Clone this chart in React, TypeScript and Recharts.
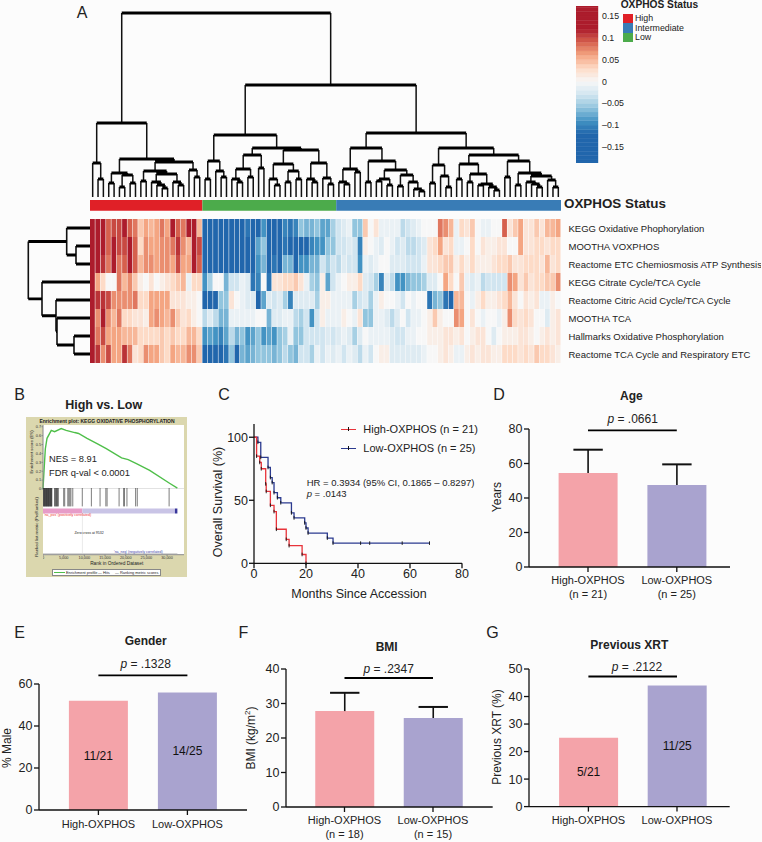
import {
  Bar,
  BarChart,
  Cell,
  ComposedChart,
  LabelList,
  Line,
  LineChart,
  ReferenceArea,
  ReferenceLine,
  XAxis,
  YAxis,
} from "recharts";

const FONT = '"Liberation Sans", Arial, sans-serif';
const INK = "#222";
const PINK = "#f4a3a9";
const LAVENDER = "#a9a3cf";

// heatmap values, unit 0.01, one list per pathway
const keggOxphos = [13,13,13,9,10,10,13,9,8,4,6,5,6,8,6,13,9,8,13,13,5,-13,-13,-13,-13,-13,-12,-12,-12,-11,-13,-13,-9,-13,-13,-13,-10,-11,-10,-6,-7,-7,-6,-8,-8,-5,-3,-2,-1,-6,-6,4,0,2,-1,-1,-1,-1,-4,-3,-2,-1,0,0,0,8,7,5,-1,3,2,4,0,-1,-1,0,0,9,2,4,6,2,2,4,2,5,5,6];
const moothaVoxphos = [13,13,13,9,13,10,10,12,9,3,7,6,6,7,7,8,11,7,5,13,10,-13,-13,-13,-13,-13,-13,-13,-13,-13,-13,-8,-6,-12,-13,-12,-11,-12,-12,-12,-12,-10,-9,-9,-6,-6,-3,-3,-2,-3,-10,1,0,-1,-2,0,-1,-3,-2,-4,-4,-3,-2,2,3,6,2,3,-1,-1,0,3,0,2,1,1,2,2,0,0,6,2,2,3,3,2,3,3];
const reactomeEtc = [13,13,11,8,13,8,9,12,9,5,7,7,6,7,7,6,10,6,6,13,9,-13,-13,-13,-13,-13,-13,-13,-13,-13,-13,-9,-7,-13,-11,-13,-7,-7,-13,-9,-9,-7,-7,-3,-5,-3,-4,-2,-3,-3,-9,-1,-2,-1,0,0,-2,-2,-2,-3,-3,-3,-1,2,2,3,4,4,1,3,1,3,1,1,1,2,3,3,4,2,2,3,3,3,2,5,2,3];
const keggCitrate = [13,6,3,0,0,8,5,7,4,1,0,2,0,1,2,3,4,5,-1,3,3,-9,-5,0,0,-7,-3,-3,-1,-2,-11,-10,0,-11,2,2,3,3,4,2,-1,-5,-6,1,-8,-3,-1,0,1,1,3,-2,-3,-5,-10,-2,-4,-9,-9,-7,-6,-6,-5,-2,-2,0,6,3,0,4,-1,-2,-1,-4,-3,-3,-3,-3,7,6,2,4,2,3,3,4,4,7];
const reactomeCitric = [13,11,11,10,7,7,7,7,8,3,3,6,6,6,6,2,2,2,1,1,0,-13,-13,-13,-6,-6,2,0,-1,-2,-2,-12,-8,-2,-3,-2,-5,-10,-2,-2,-2,-2,-5,1,1,-1,-1,-1,-1,-5,-3,-2,-5,-1,1,0,0,-1,-3,0,-1,0,0,-11,-7,-6,-11,-12,5,5,0,-1,1,3,1,1,2,3,5,2,0,2,1,2,-1,-1,1,0];
const moothaTca = [13,7,13,7,5,8,3,3,2,2,1,6,7,6,5,7,4,2,3,1,0,-4,-2,-4,-7,-7,-1,-1,-1,-1,-1,0,0,-7,-2,-2,-1,-1,-4,-5,-3,-9,-3,1,-1,-1,-1,1,0,-1,2,-6,-6,-1,-1,-2,-4,-2,0,-3,-1,-1,0,1,4,1,0,0,7,6,0,2,0,-1,0,0,-1,1,7,3,2,3,2,0,0,-2,1,2];
const hallmarksOxphos = [13,8,10,6,6,6,5,5,5,3,3,3,3,4,3,4,3,3,5,5,3,-9,-8,-9,-10,-8,-4,-7,-6,-9,-8,-6,-9,-8,-9,-6,-5,-1,-6,-6,-3,-3,-3,-3,-2,-3,-2,-1,-2,-5,-2,0,-1,-1,-1,-1,-2,-3,-3,-1,-1,0,0,1,1,1,2,2,1,2,0,1,2,2,0,-2,0,1,1,1,2,2,1,0,1,2,1,2];
const reactomeTca = [13,11,7,10,6,6,11,8,2,3,7,6,6,4,3,6,5,5,7,7,4,-12,-12,-12,-12,-11,-6,-12,-7,-8,-7,-6,-6,-6,-7,-6,-4,-6,-7,-3,-3,-5,-1,-3,-1,-2,-1,-3,-1,-2,-4,-1,-3,0,1,1,-2,-2,-2,-2,-2,-2,-1,0,0,1,2,1,-1,-1,1,2,1,2,2,1,1,3,3,3,2,3,2,4,3,3,2,1];
const heatRows = [keggOxphos, moothaVoxphos, reactomeEtc, keggCitrate, reactomeCitric, moothaTca, hallmarksOxphos, reactomeTca];
const pathways = [
  "KEGG Oxidative Phophorylation",
  "MOOTHA VOXPHOS",
  "Reactome ETC Chemiosmosis ATP Synthesis",
  "KEGG Citrate Cycle/TCA Cycle",
  "Reactome Citric Acid Cycle/TCA Cycle",
  "MOOTHA TCA",
  "Hallmarks Oxidative Phosphorylation",
  "Reactome TCA Cycle and Respiratory ETC",
];
const colorbarEdges = [-18.7,-18,-17,-16,-15,-14,-13,-12,-11,-10,-9,-8,-7,-6,-5,-4,-3,-2,-1,0,1,2,3,4,5,6,7,8,9,10,11,12,13,14,15,16,17,17.3];
const colorbarTicks = [0.15, 0.1, 0.05, 0, -0.05, -0.1, -0.15];
const statusCounts = { high: 21, low: 25, inter: 42 };
const statusLegend = [["High", "#e02027"], ["Intermediate", "#397cb6"], ["Low", "#4cab4b"]];

// dendrograms: [merge height, left, right], 0 is a leaf
type Node = 0 | [number, Node, Node];
const redBranch: Node = [74,
  [34, 0, [18, 0, 0]],
  [38,
    [24, [14, 0, 0], [22, [10, 0, 0], [14, 0, 0]]],
    [35,
      [26, [16, 0, 0], [23, [15, 0, [12, 0, [9, 0, 0]]], [15, 0, [12, 0, 0]]]],
      [27, 0, [20, 0, 0]]]]];
const greenBranch: Node = [62,
  [36, [18, 0, 0], [26, 0, [20, 0, 0]]],
  [49,
    [42, [28, [18, 0, [15, 0, 0]], [20, 0, 0]], [29, 0, 0]],
    [47,
      [33, [18, 0, [12, 0, 0]], [26, [15, 0, 0], [18, 0, 0]]],
      [34, [18, 0, [15, 0, 0]], [19, 0, [13, 0, 0]]]]]];
const blueBranch: Node = [64,
  [49,
    [28, [15, 0, [13, 0, 0]], [25, 0, 0]],
    [36,
      [15, 0, 0],
      [27, [18, [16, 0, 0], [12, 0, 0]], [22, [11, 0, 0], [15, 0, [8, 0, [6, 0, 0]]]]]]],
  [49,
    [32, [14, 0, 0], [21, 0, [10, 0, 0]]],
    [42,
      [33, [18, 0, 0], [23, [15, 0, 0], [13, [12, 0, 0], [10, 0, [7, 0, 0]]]]],
      [36, [20, 0, 0], [24, [12, 0, 0], [21, [15, 0, [13, 0, [10, 0, 0]]], [17, 0, [10, 0, 0]]]]]]]];
const columnTree: Node = [184, redBranch, [112, greenBranch, blueBranch]];
const rowTree: Node = [61.7, [23.3, 0, [14, 0, 0]], [48, 0, [34, 0, [33, 0, [16, 0, 0]]]]];

// GSEA
const esRank = [0,240,560,970,2000,2800,4400,5600,7660,8600,10650,13300,15300,19000,20600,22600,25800,30600,32500];
const esScore = [0,0.2,0.45,0.57,0.66,0.645,0.68,0.66,0.635,0.625,0.57,0.505,0.455,0.35,0.33,0.285,0.21,0.065,0.01];
const hitRanks = [50,150,250,350,450,550,650,750,850,950,1050,1150,1250,1350,1450,1500,1650,1750,1850,1950,2050,2150,2800,2950,3100,3250,3400,3550,3700,5000,5250,6000,6250,6500,6750,7200,9500,11700,13800,15200,15500,18400,19500,19700,20300,22400,22800,30500];
const esTicks = [0,0.1,0.2,0.3,0.4,0.5,0.6,0.7];
const rankTicks = [0,5000,10000,15000,20000,25000,30000];

// survival
const highMonths = [0,1,2.2,2.8,4.5,4.7,6.3,7.7,8.6,12.4,13.5,18.5,20];
const highSurvival = [100,85,80,75,63,57,46,41,27,19,14,7,0];
const lowMonths = [0,1.5,2.6,5.4,6.3,7,7.7,9,10.3,14.4,15.4,19.5,20,20.8,28.2,30.4,41,44.5,57,67.5];
const lowSurvival = [100,96,84,76,68,64,56,52,48,40,36,32,28,24,20,16,16,16,16,16];

// bars
const groups = ["High-OXPHOS", "Low-OXPHOS"];
const ageMeans = [54.5, 47.5];
const ageErrors = [13.5, 12];
const ageCounts = ["(n = 21)", "(n = 25)"];
const malePercent = [52, 56];
const maleCounts = ["11/21", "14/25"];
const bmiMeans = [27.8, 25.8];
const bmiErrors = [5.3, 3.2];
const bmiCounts = ["(n = 18)", "(n = 15)"];
const xrtPercent = [25, 44];
const xrtCounts = ["5/21", "11/25"];

const heatStops: [number, number[]][] = [
  [-12, [33, 102, 172]],
  [-9, [67, 147, 195]],
  [-6, [146, 197, 222]],
  [-3, [209, 229, 240]],
  [0, [247, 247, 247]],
  [3, [253, 219, 199]],
  [6, [244, 165, 130]],
  [9, [214, 96, 77]],
  [12, [172, 28, 44]],
];

function heatColor(v: number) {
  if (v <= -12) return "rgb(33,102,172)";
  if (v >= 12) return "rgb(172,28,44)";
  for (let i = 0; i < heatStops.length - 1; i++) {
    const [a, ca] = heatStops[i];
    const [b, cb] = heatStops[i + 1];
    if (v <= b) {
      const t = (v - a) / (b - a);
      return `rgb(${ca.map((c, k) => Math.round(c + (cb[k] - c) * t)).join(",")})`;
    }
  }
  return "#fff";
}

function treeSegments(tree: Node) {
  let next = 0;
  const merges: any[] = [];
  const stems: any[] = [];
  const walk = (node: Node): { pos: number; h: number } => {
    if (node === 0) {
      next += 1;
      return { pos: next - 0.5, h: 0 };
    }
    const [h, a, b] = node;
    const l = walk(a);
    const r = walk(b);
    merges.push({ pos: l.pos, h }, { pos: r.pos, h }, { pos: r.pos, h, gap: true });
    for (const c of [l, r]) {
      stems.push({ pos: c.pos, h: c.h }, { pos: c.pos, h }, { pos: c.pos, h, gap: true });
    }
    return { pos: (l.pos + r.pos) / 2, h };
  };
  walk(tree);
  return { merges, stems };
}

const Txt = ({ x, y, size = 11, bold, color = INK, rotate, anchor = "center", children }: any) => (
  <div
    style={{
      position: "absolute",
      left: x,
      top: y,
      transform: `translate(${anchor === "center" ? "-50%" : "0"}, -50%)${rotate ? ` rotate(${rotate}deg)` : ""}`,
      fontFamily: FONT,
      fontSize: size,
      fontWeight: bold ? 700 : 400,
      color,
      whiteSpace: "nowrap",
      lineHeight: 1,
    }}
  >
    {children}
  </div>
);

const at = (left: number, top: number): any => ({ position: "absolute", left, top });

function ColumnDendrogram() {
  const { merges, stems } = treeSegments(columnTree);
  const toXY = (d: any) => ({ x: d.pos, y: d.gap ? null : d.h });
  return (
    <LineChart width={471} height={192} style={at(90, 5)} margin={{ top: 0, right: 0, bottom: 0, left: 0 }}>
      <XAxis hide type="number" dataKey="x" domain={[0, 88]} />
      <YAxis hide type="number" domain={[0, 192]} />
      <Line data={stems.map(toXY)} dataKey="y" stroke="#111" strokeWidth={1.5} dot={false} isAnimationActive={false} />
      <Line data={merges.map(toXY)} dataKey="y" stroke="#000" strokeWidth={3} dot={false} isAnimationActive={false} />
    </LineChart>
  );
}

function RowDendrogram() {
  const { merges, stems } = treeSegments(rowTree);
  const toXY = (d: any) => ({ x: d.h, y: d.gap ? null : d.pos });
  return (
    <LineChart width={65} height={144} style={at(25, 219)} margin={{ top: 0, right: 0, bottom: 0, left: 0 }}>
      <XAxis hide type="number" dataKey="x" domain={[0, 65]} reversed />
      <YAxis hide type="number" domain={[0, 8]} reversed />
      <Line data={merges.map(toXY)} dataKey="y" stroke="#111" strokeWidth={1.6} dot={false} isAnimationActive={false} />
      <Line data={stems.map(toXY)} dataKey="y" stroke="#000" strokeWidth={2.8} dot={false} isAnimationActive={false} />
    </LineChart>
  );
}

function StatusStrip() {
  return (
    <BarChart width={471} height={12} style={at(90, 199)} layout="vertical" data={[{ name: "status", ...statusCounts }]} margin={{ top: 0, right: 0, bottom: 0, left: 0 }} barCategoryGap={0}>
      <XAxis hide type="number" domain={[0, 88]} />
      <YAxis hide type="category" dataKey="name" />
      <Bar dataKey="high" stackId="s" fill="#e02027" barSize={12} isAnimationActive={false} />
      <Bar dataKey="low" stackId="s" fill="#4cab4b" barSize={12} isAnimationActive={false} />
      <Bar dataKey="inter" stackId="s" fill="#397cb6" barSize={12} isAnimationActive={false} />
    </BarChart>
  );
}

const PathwayTick = ({ x, y, payload }: any) => (
  <text x={x} y={y} dy={3.6} fontSize={9.5} fill={INK} fontFamily={FONT}>
    {pathways[Math.floor(payload.value)]}
  </text>
);

function Heatmap() {
  const columns = keggOxphos.map((_, col) => {
    const row: any = { col };
    heatRows.forEach((_r, r) => (row[`r${r}`] = 1));
    return row;
  });
  return (
    <BarChart width={671} height={144} style={at(90, 219)} data={columns} margin={{ top: 0, right: 0, bottom: 0, left: 0 }} barCategoryGap={0}>
      <XAxis hide dataKey="col" />
      <YAxis
        orientation="right"
        type="number"
        width={200}
        domain={[0, 8]}
        reversed
        ticks={[0.5, 1.5, 2.5, 3.5, 4.5, 5.5, 6.5, 7.5]}
        interval={0}
        axisLine={false}
        tickLine={false}
        tickSize={0}
        tickMargin={7.5}
        tick={<PathwayTick />}
      />
      {heatRows.map((row, r) => (
        <Bar key={r} dataKey={`r${r}`} stackId="h" barSize={6} isAnimationActive={false}>
          {row.map((v, c) => (
            <Cell key={c} fill={heatColor(v)} />
          ))}
        </Bar>
      ))}
    </BarChart>
  );
}

function Colorbar() {
  const steps = colorbarEdges.slice(0, -1);
  return (
    <ComposedChart width={62} height={157} style={at(575.7, 6)} data={[{ x: 0, v: 0 }, { x: 1, v: 0 }]} margin={{ top: 0, right: 0, bottom: 0, left: 0 }}>
      <XAxis hide dataKey="x" />
      <YAxis
        orientation="right"
        type="number"
        width={40}
        domain={[-0.187, 0.173]}
        ticks={colorbarTicks}
        interval={0}
        axisLine={false}
        tickLine={false}
        tickSize={0}
        tickMargin={4}
        tickFormatter={(v: number) => (v < 0 ? `–${-v}` : `${v}`)}
        tick={{ fontSize: 8.8, fill: INK, fontFamily: FONT }}
      />
      <Line dataKey="v" stroke="none" dot={false} isAnimationActive={false} />
      {steps.map((lvl, i) => (
        <ReferenceArea key={lvl} y1={lvl / 100} y2={colorbarEdges[i + 1] / 100} fill={heatColor(lvl + 0.5)} fillOpacity={1} stroke={heatColor(lvl + 0.5)} strokeWidth={0.4} ifOverflow="visible" />
      ))}
    </ComposedChart>
  );
}

function EnrichmentPlot() {
  const es = esRank.map((rank, i) => ({ rank, es: esScore[i] }));
  const tiny = { fontSize: 3.8, fill: "#333", fontFamily: FONT };
  return (
    <>
      <div style={{ ...at(26, 416.7), width: 161, height: 160, background: "#dbd7ae" }} />
      <div style={{ ...at(43.3, 425), width: 141, height: 130, background: "#fff" }} />
      <Txt x={107} y={420.5} size={5} bold>Enrichment plot: KEGG OXIDATIVE PHOSPHORYLATION</Txt>
      <LineChart width={155} height={67} style={at(29.3, 425)} data={es} margin={{ top: 0, right: 0, bottom: 3, left: 0 }}>
        <XAxis hide type="number" dataKey="rank" domain={[0, 34100]} />
        <YAxis type="number" width={14} domain={[0, 0.72]} ticks={esTicks} interval={0} tickSize={1.5} tickMargin={0.5} tick={tiny} stroke="#888" />
        <Line dataKey="es" stroke="#4fbf4a" strokeWidth={1.4} dot={false} isAnimationActive={false} />
      </LineChart>
      <ComposedChart width={141} height={80} style={at(43.3, 488.3)} data={[{ rank: 0, y: 0 }, { rank: 1, y: 0 }]} margin={{ top: 0, right: 0, bottom: 0, left: 0 }}>
        <XAxis type="number" dataKey="rank" height={13.3} domain={[0, 34100]} ticks={rankTicks} interval={0} tickSize={1.5} tickMargin={0.5} tickFormatter={(v: number) => v.toLocaleString("en-US")} tick={tiny} stroke="#888" />
        <YAxis hide type="number" domain={[0, 66.7]} reversed />
        <Line dataKey="y" stroke="none" dot={false} isAnimationActive={false} />
        <ReferenceLine y={0} stroke="#888" strokeWidth={0.5} />
        {hitRanks.map((rank) => (
          <ReferenceLine key={rank} segment={[{ x: rank, y: 0 }, { x: rank, y: 18.4 }]} stroke="#222" strokeOpacity={0.65} strokeWidth={0.9} />
        ))}
        <ReferenceArea x1={0} x2={9532} y1={20.5} y2={25.5} fill="#e79cc8" fillOpacity={1} />
        <ReferenceArea x1={9532} x2={31900} y1={20.5} y2={25.5} fill="#c9c4e6" fillOpacity={1} />
        <ReferenceArea x1={31900} x2={32500} y1={20.5} y2={25.5} fill="#38369a" fillOpacity={1} />
        <ReferenceLine segment={[{ x: 9532, y: 25.5 }, { x: 9532, y: 65 }]} stroke="#999" strokeWidth={0.4} strokeDasharray="1 1" />
        <ReferenceLine segment={[{ x: 0, y: 65.5 }, { x: 32500, y: 65.5 }]} stroke="#bbb" strokeWidth={0.6} />
      </ComposedChart>
      <Txt x={32.3} y={451.7} size={4.3} rotate={-90}>Enrichment score (ES)</Txt>
      <Txt x={36.7} y={526.7} size={4.3} rotate={-90}>Ranked list metric (PreRanked)</Txt>
      <Txt x={116.7} y={563.7} size={4.8}>Rank in Ordered Dataset</Txt>
      <Txt x={44} y={516.3} size={3.5} color="#e33" anchor="start">'na_pos' (positively correlated)</Txt>
      <Txt x={89} y={534.3} size={3.5}>Zero cross at 9532</Txt>
      <Txt x={114} y={552.7} size={3.5} color="#44a" anchor="start">'na_neg' (negatively correlated)</Txt>
      <div style={{ ...at(51.7, 569.3), width: 109, height: 7, background: "#fff", border: "0.5px solid #888", boxSizing: "border-box" }} />
      <div style={{ ...at(54, 572.3), width: 11, height: 1, background: "#4fbf4a" }} />
      <Txt x={66} y={572.8} size={3.9} anchor="start">Enrichment profile</Txt>
      <Txt x={98} y={572.8} size={3.9} anchor="start">— Hits</Txt>
      <Txt x={115} y={572.8} size={3.9} anchor="start">— Ranking metric scores</Txt>
      <Txt x={49} y={460} size={9.3} anchor="start">NES = 8.91</Txt>
      <Txt x={49} y={474} size={9.3} anchor="start">FDR q-val &lt; 0.0001</Txt>
    </>
  );
}

const StepTick = (props: any) => {
  const { cx, cy, index } = props;
  if (index === 0 || cy == null) return <g key={index} />;
  return <line key={index} x1={cx} x2={cx} y1={cy - 1.8} y2={cy + 1.8} stroke="#111" strokeWidth={0.9} />;
};

function SurvivalPlot() {
  const high = highMonths.map((month, i) => ({ month, s: highSurvival[i] }));
  const low = lowMonths.map((month, i) => ({ month, s: lowSurvival[i] }));
  const axis = { stroke: "#111", strokeWidth: 1.3 };
  return (
    <LineChart width={268} height={180} style={at(204.3, 424)} margin={{ top: 0, right: 10, bottom: 0, left: 0 }}>
      <XAxis type="number" dataKey="month" height={40.7} domain={[0, 80]} ticks={[0, 20, 40, 60, 80]} interval={0} tickSize={5} tickMargin={1} axisLine={axis} tickLine={axis} tick={{ fontSize: 12.5, fill: INK, fontFamily: FONT }} />
      <YAxis type="number" width={50} domain={[0, 110.5]} ticks={[0, 50, 100]} interval={0} tickSize={5} tickMargin={1} axisLine={axis} tickLine={axis} tick={{ fontSize: 12.5, fill: INK, fontFamily: FONT }} />
      <Line data={low} type="stepAfter" dataKey="s" stroke="#2b3a8f" strokeWidth={1.3} dot={StepTick} isAnimationActive={false} />
      <Line data={high} type="stepAfter" dataKey="s" stroke="#e8333a" strokeWidth={1.3} dot={StepTick} isAnimationActive={false} />
    </LineChart>
  );
}

const LegendKey = ({ y, color }: any) => (
  <>
    <div style={{ ...at(341, y - 0.7), width: 15, height: 1.4, background: color }} />
    <div style={{ ...at(348, y - 2), width: 1, height: 4, background: "#111" }} />
  </>
);

const Whisker = ({ x, y, width, height }: any) => {
  if (!height) return <g />;
  const cx = x + width / 2;
  return (
    <g stroke="#111">
      <line x1={cx} x2={cx} y1={y} y2={y + height} strokeWidth={1.6} />
      <line x1={cx - 14.7} x2={cx + 14.7} y1={y} y2={y} strokeWidth={2} />
    </g>
  );
};

const GroupTick = ({ x, y, payload, index, subs }: any) => (
  <text x={x} y={y} textAnchor="middle" fontSize={11} fill={INK} fontFamily={FONT}>
    <tspan x={x} dy={10.5}>{payload.value}</tspan>
    {subs && <tspan x={x} dy={13.4}>{subs[index]}</tspan>}
  </text>
);

function BarPanel({ left, top, width, height, max, ticks, values, errors, texts, subs, sigY, padL, padR }: any) {
  const rows = groups.map((name, i) => ({
    name,
    value: values[i],
    err: errors ? errors[i] : 0,
    text: texts ? texts[i] : "",
  }));
  const axis = { stroke: "#111", strokeWidth: 1.3 };
  return (
    <BarChart width={width + 50} height={height + 75} style={at(left - 50, top - 30)} data={rows} margin={{ top: 30, right: 0, bottom: 0, left: 0 }}>
      <XAxis dataKey="name" height={45} padding={{ left: padL, right: padR }} tickSize={5} tickMargin={2} interval={0} axisLine={axis} tickLine={axis} tick={<GroupTick subs={subs} />} />
      <YAxis type="number" width={50} domain={[0, max]} ticks={ticks} interval={0} tickSize={5} tickMargin={1.5} axisLine={axis} tickLine={axis} tick={{ fontSize: 12.5, fill: INK, fontFamily: FONT }} />
      <Bar dataKey="value" stackId="b" barSize={59} isAnimationActive={false}>
        {rows.map((_, i) => (
          <Cell key={i} fill={i === 0 ? PINK : LAVENDER} />
        ))}
        {texts && <LabelList dataKey="text" position="center" fontSize={12} fill="#111" fontFamily={FONT} />}
      </Bar>
      {errors && <Bar dataKey="err" stackId="b" barSize={59} shape={Whisker} isAnimationActive={false} />}
      <ReferenceLine
        segment={[{ x: groups[0], y: sigY }, { x: groups[1], y: sigY }]}
        stroke="#000"
        strokeWidth={1.9}
        ifOverflow="visible"
      />
    </BarChart>
  );
}

const PValue = ({ x, y, value }: any) => (
  <Txt x={x} y={y} size={12}>
    <i>p</i> = {value}
  </Txt>
);

export default function App() {
  return (
    <div style={{ position: "absolute", left: 0, top: 0, width: 762, height: 842, overflow: "hidden", background: "#fcfcfc" }}>
      <Txt x={82} y={13} size={16}>A</Txt>
      <ColumnDendrogram />
      <StatusStrip />
      <Txt x={564} y={204} size={13.4} bold anchor="start">OXPHOS Status</Txt>
      <RowDendrogram />
      <Heatmap />
      <Colorbar />
      <Txt x={620.7} y={5} size={10.2} bold anchor="start">OXPHOS Status</Txt>
      {statusLegend.map(([label, color], i) => (
        <div key={label}>
          <div style={{ ...at(623, 13.5 + i * 9.5), width: 9.7, height: 9.5, background: color }} />
          <Txt x={635} y={18 + i * 9.6} size={8.8} anchor="start">{label}</Txt>
        </div>
      ))}

      <Txt x={19.5} y={395} size={16}>B</Txt>
      <Txt x={103.7} y={405} size={12.5} bold>High vs. Low</Txt>
      <EnrichmentPlot />

      <Txt x={224} y={395} size={16}>C</Txt>
      <SurvivalPlot />
      <LegendKey y={429.3} color="#e8333a" />
      <LegendKey y={448.3} color="#2b3a8f" />
      <Txt x={363.3} y={429.3} size={11} anchor="start">High-OXPHOS (n = 21)</Txt>
      <Txt x={363.3} y={448.3} size={11} anchor="start">Low-OXPHOS (n = 25)</Txt>
      <Txt x={306.7} y={482.7} size={9.5} anchor="start">HR = 0.3934 (95% CI, 0.1865 – 0.8297)</Txt>
      <Txt x={306.7} y={493.5} size={9.5} anchor="start"><i>p</i> = .0143</Txt>
      <Txt x={359} y={594} size={12.5}>Months Since Accession</Txt>
      <Txt x={217.7} y={501.7} size={12.5} rotate={-90}>Overall Survival (%)</Txt>

      <Txt x={499} y={395} size={16}>D</Txt>
      <Txt x={631.3} y={396} size={12} bold>Age</Txt>
      <BarPanel left={528.7} top={428.7} width={201.3} height={138} max={80} ticks={[0, 20, 40, 60, 80]} values={ageMeans} errors={ageErrors} subs={ageCounts} sigY={79.2} padL={14.6} padR={9.1} />
      <PValue x={632.7} y={419} value=".0661" />
      <Txt x={496.7} y={497.3} size={12} rotate={-90}>Years</Txt>

      <Txt x={19.5} y={633} size={16}>E</Txt>
      <Txt x={145.7} y={640.7} size={12} bold>Gender</Txt>
      <BarPanel left={39.3} top={684} width={208} height={126} max={60} ticks={[0, 20, 40, 60]} values={malePercent} texts={maleCounts} sigY={64.1} padL={14.9} padR={15.1} />
      <PValue x={145.7} y={664.3} value=".1328" />
      <Txt x={7} y={748} size={12} rotate={-90}>% Male</Txt>

      <Txt x={243.5} y={633} size={16}>F</Txt>
      <Txt x={386.7} y={647.3} size={12} bold>BMI</Txt>
      <BarPanel left={286} top={669} width={206.7} height={138} max={40} ticks={[0, 10, 20, 30, 40]} values={bmiMeans} errors={bmiErrors} subs={bmiCounts} sigY={37.4} padL={14.25} padR={15.45} />
      <PValue x={388.7} y={669.3} value=".2347" />
      <Txt x={250} y={738} size={12} rotate={-90}>BMI (kg/m<sup style={{ fontSize: 8 }}>2</sup>)</Txt>

      <Txt x={492.5} y={633} size={16}>G</Txt>
      <Txt x={629.3} y={645.3} size={12} bold>Previous XRT</Txt>
      <BarPanel left={529.3} top={668.7} width={200.7} height={137.6} max={50} ticks={[0, 10, 20, 30, 40, 50]} values={xrtPercent} texts={xrtCounts} sigY={47.3} padL={15.1} padR={8.4} />
      <PValue x={637} y={667.3} value=".2122" />
      <Txt x={496.7} y={736.7} size={12} rotate={-90}>Previous XRT (%)</Txt>
    </div>
  );
}
